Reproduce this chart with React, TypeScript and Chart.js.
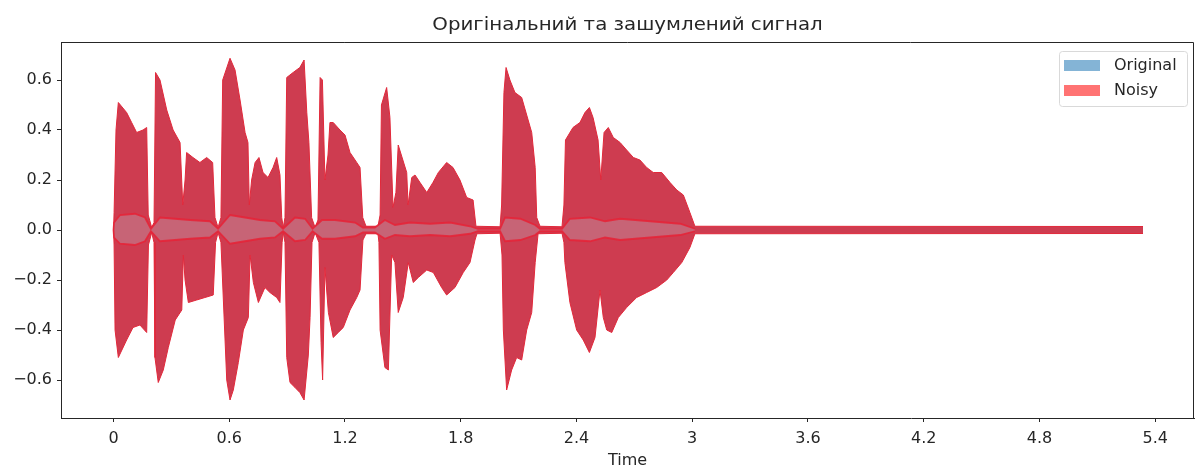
import React, { useEffect, useRef } from "react";
import { Chart, registerables } from "chart.js";
Chart.register(...registerables);

const TITLE = "Оригінальний та зашумлений сигнал";
const X_LABEL = "Time";
const SERIES_NAMES = ["Original", "Noisy"];
const X_TICKS = [0, 0.6, 1.2, 1.8, 2.4, 3.0, 3.6, 4.2, 4.8, 5.4];
const X_TICK_LABELS = ["0", "0.6", "1.2", "1.8", "2.4", "3", "3.6", "4.2", "4.8", "5.4"];
const Y_TICKS = [-0.6, -0.4, -0.2, 0, 0.2, 0.4, 0.6];

// outer (max) envelope of the signal, seconds / amplitude
const upperTime = [
  0.0, 0.003, 0.013, 0.025, 0.068, 0.094, 0.12, 0.153, 0.172, 0.18, 0.198,
  0.21, 0.218, 0.241, 0.276, 0.309, 0.345, 0.359, 0.371, 0.379, 0.412, 0.448, 0.483, 0.514, 0.526, 0.542,
  0.557, 0.566, 0.604, 0.63, 0.656, 0.682, 0.697, 0.704, 0.716, 0.734, 0.754, 0.775, 0.801, 0.827, 0.846, 0.863, 0.872, 0.88,
  0.889, 0.898, 0.931, 0.966, 0.988, 1.002, 1.013, 1.027, 1.045,
  1.06, 1.071, 1.083, 1.096, 1.112, 1.122, 1.139, 1.174, 1.2, 1.226, 1.261, 1.278, 1.292, 1.309, 1.371,
  1.382, 1.389, 1.416, 1.433, 1.449, 1.464, 1.476, 1.52, 1.527, 1.546, 1.563, 1.589, 1.624, 1.656, 1.684, 1.727, 1.76, 1.796, 1.831, 1.864, 1.879, 2.004,
  2.012, 2.024, 2.035, 2.055, 2.081, 2.116, 2.142, 2.168, 2.186, 2.194, 2.211, 2.325,
  2.335, 2.343, 2.382, 2.418, 2.444, 2.467, 2.486, 2.512, 2.526, 2.543, 2.565, 2.591, 2.626, 2.66, 2.695, 2.729, 2.764, 2.798, 2.842, 2.885, 2.92, 2.954, 2.988, 3.014, 5.337,
];
const upperAmp = [
  0.0, 0.07, 0.4, 0.51, 0.47, 0.43, 0.39, 0.4, 0.41, 0.06, 0.01,
  0.03, 0.63, 0.6, 0.48, 0.4, 0.35, 0.1, 0.2, 0.31, 0.29, 0.27, 0.29, 0.27, 0.05, 0.01,
  0.05, 0.6, 0.687, 0.64, 0.52, 0.39, 0.35, 0.1, 0.2, 0.27, 0.29, 0.23, 0.21, 0.25, 0.29, 0.22, 0.05, 0.01,
  0.05, 0.61, 0.63, 0.65, 0.68, 0.47, 0.35, 0.05, 0.01,
  0.04, 0.61, 0.6, 0.2, 0.3, 0.43, 0.43, 0.4, 0.38, 0.31, 0.27, 0.25, 0.05, 0.015, 0.015,
  0.06, 0.5, 0.57, 0.45, 0.09, 0.15, 0.34, 0.23, 0.1, 0.21, 0.22, 0.19, 0.15, 0.19, 0.23, 0.27, 0.25, 0.2, 0.13, 0.12, 0.015, 0.013,
  0.1, 0.55, 0.65, 0.6, 0.55, 0.53, 0.46, 0.39, 0.25, 0.05, 0.015, 0.013,
  0.1, 0.36, 0.41, 0.43, 0.47, 0.49, 0.45, 0.36, 0.2, 0.39, 0.41, 0.37, 0.35, 0.32, 0.29, 0.28, 0.25, 0.23, 0.23, 0.19, 0.16, 0.14, 0.07, 0.015, 0.014,
];

// outer (min) envelope of the signal
const lowerTime = [
  0.0, 0.003, 0.008, 0.025, 0.068, 0.101, 0.137, 0.172, 0.181, 0.198,
  0.21, 0.215, 0.232, 0.258, 0.284, 0.32, 0.354, 0.362, 0.371, 0.388, 0.431, 0.474, 0.517, 0.529, 0.542,
  0.557, 0.587, 0.604, 0.621, 0.647, 0.673, 0.699, 0.708, 0.725, 0.751, 0.785, 0.811, 0.846, 0.863, 0.874, 0.88,
  0.889, 0.898, 0.915, 0.941, 0.966, 0.988, 1.01, 1.019, 1.029, 1.045,
  1.065, 1.076, 1.084, 1.096, 1.114, 1.139, 1.165, 1.191, 1.226, 1.261, 1.278, 1.293, 1.309, 1.371,
  1.376, 1.382, 1.407, 1.425, 1.442, 1.459, 1.476, 1.502, 1.528, 1.554, 1.58, 1.624, 1.658, 1.701, 1.727, 1.77, 1.813, 1.848, 1.874, 1.884, 2.004,
  2.014, 2.021, 2.038, 2.064, 2.09, 2.116, 2.142, 2.168, 2.186, 2.201, 2.325,
  2.335, 2.34, 2.366, 2.401, 2.435, 2.467, 2.496, 2.522, 2.539, 2.557, 2.583, 2.617, 2.66, 2.712, 2.764, 2.816, 2.868, 2.902, 2.946, 2.988, 3.014, 5.337,
];
const lowerAmp = [
  0.0, -0.06, -0.4, -0.51, -0.44, -0.39, -0.38, -0.41, -0.06, -0.01,
  -0.05, -0.51, -0.61, -0.56, -0.47, -0.36, -0.32, -0.1, -0.2, -0.29, -0.28, -0.27, -0.26, -0.05, -0.01,
  -0.05, -0.6, -0.68, -0.64, -0.53, -0.4, -0.35, -0.1, -0.21, -0.29, -0.23, -0.25, -0.27, -0.29, -0.05, -0.01,
  -0.05, -0.51, -0.61, -0.63, -0.65, -0.68, -0.5, -0.35, -0.05, -0.01,
  -0.05, -0.45, -0.6, -0.15, -0.33, -0.43, -0.41, -0.39, -0.32, -0.27, -0.24, -0.04, -0.015, -0.015,
  -0.05, -0.4, -0.55, -0.56, -0.1, -0.13, -0.33, -0.27, -0.13, -0.21, -0.19, -0.16, -0.17, -0.23, -0.26, -0.23, -0.17, -0.13, -0.04, -0.015, -0.013,
  -0.1, -0.4, -0.64, -0.56, -0.51, -0.52, -0.4, -0.33, -0.13, -0.015, -0.013,
  -0.05, -0.13, -0.29, -0.4, -0.44, -0.49, -0.43, -0.24, -0.35, -0.4, -0.41, -0.35, -0.31, -0.27, -0.25, -0.23, -0.2, -0.17, -0.13, -0.07, -0.015, -0.014,
];

// inner band (original signal body near zero)
const innerTime = [
  0.0, 0.003, 0.034, 0.111, 0.163, 0.194, 0.241, 0.319, 0.397, 0.5, 0.542, 0.604, 0.682, 0.759, 0.837, 0.879,
  0.941, 0.993, 1.032, 1.081, 1.148, 1.252, 1.293, 1.355, 1.407, 1.459, 1.537, 1.641, 1.745, 1.848, 1.889,
  2.004, 2.03, 2.109, 2.186, 2.211, 2.325, 2.366, 2.47, 2.548, 2.626, 2.782, 2.938, 3.014,
];
const innerUpperAmp = [
  0.0, 0.03, 0.06, 0.065, 0.05, 0.005, 0.05, 0.045, 0.04, 0.035, 0.005, 0.06, 0.05, 0.04, 0.035, 0.005,
  0.05, 0.045, 0.005, 0.04, 0.04, 0.03, 0.01, 0.01, 0.04, 0.02, 0.03, 0.025, 0.03, 0.015, 0.005,
  0.005, 0.05, 0.045, 0.02, 0.005, 0.005, 0.045, 0.05, 0.035, 0.045, 0.035, 0.025, 0.005,
];
const innerLowerAmp = [
  0.0, -0.03, -0.055, -0.06, -0.045, -0.005, -0.045, -0.04, -0.035, -0.03, -0.005, -0.055, -0.045, -0.035, -0.03, -0.005,
  -0.045, -0.04, -0.005, -0.035, -0.035, -0.025, -0.01, -0.01, -0.035, -0.02, -0.025, -0.02, -0.025, -0.015, -0.005,
  -0.005, -0.045, -0.04, -0.02, -0.005, -0.005, -0.04, -0.045, -0.03, -0.04, -0.03, -0.02, -0.005,
];

const toPoints = (ts: number[], vs: number[]) => ts.map((t, i) => ({ x: t, y: vs[i] }));

const BODY = "rgb(206,60,80)";
const EDGE = "rgb(226,40,58)";
const INNER_FILL = "rgb(199,100,118)";
const INNER_EDGE = "rgba(230,34,54,0.85)";
const LEGEND_COLORS = ["rgba(31,119,180,0.55)", "rgba(255,0,0,0.55)"];
const FONT = "'DejaVu Sans', sans-serif";
const TEXT = "#262626";

const decor = {
  id: "decor",
  afterDraw(chart: any) {
    const { ctx, chartArea: a } = chart;
    ctx.save();
    // top and right spines
    ctx.strokeStyle = TEXT;
    ctx.lineWidth = 1;
    ctx.beginPath();
    const L = Math.round(a.left), R = Math.round(a.right) - 0.5, T = Math.round(a.top) + 0.5, B = Math.round(a.bottom);
    ctx.moveTo(L, T);
    ctx.lineTo(R, T);
    ctx.lineTo(R, B);
    ctx.stroke();
    // title (slightly widened to match reference proportions)
    ctx.fillStyle = TEXT;
    ctx.font = `18px ${FONT}`;
    ctx.textAlign = "center";
    ctx.textBaseline = "middle";
    const cx = (a.left + a.right) / 2;
    ctx.save();
    ctx.translate(cx, 25);
    ctx.scale(1.1, 1);
    ctx.fillText(TITLE, 0, 0);
    ctx.restore();
    // legend
    const bx = 1059, by = 51, bw = 128, bh = 55;
    ctx.fillStyle = "rgba(255,255,255,0.8)";
    ctx.strokeStyle = "#d9d9d9";
    ctx.beginPath();
    ctx.roundRect(bx + 0.5, by + 0.5, bw, bh, 3);
    ctx.fill();
    ctx.stroke();
    ctx.font = `16px ${FONT}`;
    ctx.textAlign = "left";
    SERIES_NAMES.forEach((name, i) => {
      const cy = 65 + i * 25;
      ctx.fillStyle = LEGEND_COLORS[i];
      ctx.fillRect(1064, cy - 5, 36, 11);
      ctx.fillStyle = TEXT;
      ctx.fillText(name, 1114, cy + 1);
    });
    ctx.restore();
  },
};

export default function App() {
  const ref = useRef<HTMLCanvasElement>(null);
  useEffect(() => {
    if (!ref.current) return;
    const common = { pointRadius: 0, tension: 0, fill: "origin" as const };
    const chart = new Chart(ref.current, {
      type: "line",
      data: {
        datasets: [
          { ...common, label: "inner+", data: toPoints(innerTime, innerUpperAmp), backgroundColor: INNER_FILL, borderColor: INNER_EDGE, borderWidth: 1.8, order: 0 },
          { ...common, label: "inner-", data: toPoints(innerTime, innerLowerAmp), backgroundColor: INNER_FILL, borderColor: INNER_EDGE, borderWidth: 1.8, order: 0 },
          { ...common, label: "outer+", data: toPoints(upperTime, upperAmp), backgroundColor: BODY, borderColor: EDGE, borderWidth: 1, order: 1 },
          { ...common, label: "outer-", data: toPoints(lowerTime, lowerAmp), backgroundColor: BODY, borderColor: EDGE, borderWidth: 1, order: 1 },
        ],
      },
      options: {
        animation: false,
        responsive: false,
        events: [],
        layout: { padding: { left: 0, right: 2, top: 42, bottom: 0 } },
        plugins: { legend: { display: false }, tooltip: { enabled: false }, title: { display: false } },
        scales: {
          x: {
            type: "linear",
            min: -0.2722,
            max: 5.6013,
            afterBuildTicks: (s: any) => { s.ticks = X_TICKS.map((v) => ({ value: v })); },
            afterFit: (s: any) => { s.height = 50; },
            ticks: {
              autoSkip: false,
              maxRotation: 0,
              padding: 7,
              color: TEXT,
              font: { family: FONT, size: 16 },
              callback: (v: any) => {
                const i = X_TICKS.findIndex((t) => Math.abs(t - Number(v)) < 1e-6);
                return i >= 0 ? X_TICK_LABELS[i] : "";
              },
            },
            grid: { drawOnChartArea: false, drawTicks: true, tickLength: 4, color: TEXT },
            border: { display: true, color: TEXT, width: 1 },
            title: { display: true, text: X_LABEL, color: TEXT, font: { family: FONT, size: 16 }, padding: { top: 0, bottom: -2 } },
          },
          y: {
            type: "linear",
            min: -0.752,
            max: 0.752,
            afterBuildTicks: (s: any) => { s.ticks = Y_TICKS.map((v) => ({ value: v })); },
            afterFit: (s: any) => { s.width = 61; },
            ticks: {
              padding: 5,
              color: TEXT,
              font: { family: FONT, size: 16 },
              callback: (v: any) => Number(v).toFixed(1).replace("-", "\u2212"),
            },
            grid: { drawOnChartArea: false, drawTicks: true, tickLength: 4, color: TEXT },
            border: { display: true, color: TEXT, width: 1 },
          },
        },
      },
      plugins: [decor],
    });
    return () => chart.destroy();
  }, []);
  return (
    <div style={{ position: "fixed", left: 0, top: 0, width: 1196, height: 468, background: "#fff" }}>
      <canvas ref={ref} width={1196} height={468} style={{ width: 1196, height: 468 }} />
    </div>
  );
}
